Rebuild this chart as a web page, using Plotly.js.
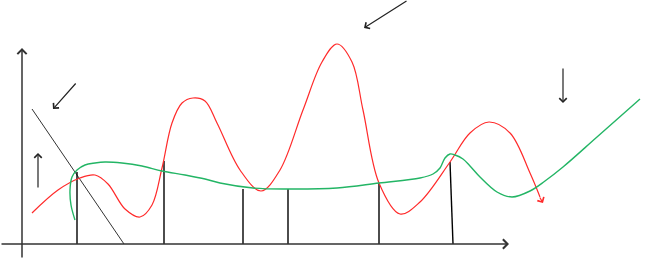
<!DOCTYPE html>
<html>
<head>
<meta charset="utf-8">
<script src="https://cdn.plot.ly/plotly-3.0.1.min.js"></script>
<style>html,body{margin:0;padding:0;background:#fff;}#chart{width:647px;height:261px;}</style>
</head>
<body>
<div id="chart"></div>
<script>
// Red curve
const redX = [32,58,80,95,108,125,140,152,162,172,182,193,205,217,240,261,280,303,322,337,352,363,379,400,420,450,470,489,510,530,540];
const redY = [213,190,178,175,184,209,217,205,168,123,103,98,101,123,170,191,170,110,62,44,62,110,183,214,202,162,133,122,133,173,197];
// Green curve
const greenX = [75,71,70,72,77,85,95,105,122,142,162,185,205,220,253,287,337,379,420,433,440,445,450,455,463,470,480,497,512,530,545,563,597,640];
const greenY = [220,205,190,177,170,165,163,162,163,166,171,175,179,183,188,189,188,183,178,174,168,158,154,155,159,166,177,192,197,191,181,167,137,99];
// Diagonal line
const diagX = [32,124];
const diagY = [109,244];
// Vertical stems (base on x axis, top on curve)
const stemBaseX = [77,164,243,288,379,453];
const stemTopX  = [77,164,243,288,379,450];
const stemTopY  = [172,161,189,189,183,162];
const baseY = 244;
// Arrows: tail -> head
const arrowTailX = [77,38,408,563];
const arrowTailY = [82,189,0,67];
const arrowHeadX = [53,38,364,563];
const arrowHeadY = [109,153,28,103];
// Axes: tail -> head
const axisTailX = [0,22];
const axisTailY = [244,259];
const axisHeadX = [509,22];
const axisHeadY = [244,48];
// Red curve end arrow
const redEndTail = [539,196];
const redEndHead = [543,203];

const sx = [], sy = [];
for (let i = 0; i < stemBaseX.length; i++) {
  sx.push(stemBaseX[i], stemTopX[i], null);
  sy.push(baseY, stemTopY[i], null);
}

const traces = [
  {x: diagX, y: diagY, mode: 'lines', line: {color: '#333', width: 1}, hoverinfo: 'skip'},
  {x: sx, y: sy, mode: 'lines', line: {color: '#000', width: 1.4}, hoverinfo: 'skip'},
  {x: redX, y: redY, mode: 'lines', line: {color: '#ff2a2a', width: 1.2, shape: 'spline', smoothing: 1}, hoverinfo: 'skip'},
  {x: greenX, y: greenY, mode: 'lines', line: {color: '#23b565', width: 1.4, shape: 'spline', smoothing: 1}, hoverinfo: 'skip'}
];

const annotations = [];
function arrow(tx, ty, hx, hy, color, w) {
  annotations.push({
    x: hx, y: hy, ax: tx, ay: ty,
    xref: 'x', yref: 'y', axref: 'x', ayref: 'y',
    text: '', showarrow: true, arrowhead: 4, arrowsize: 1.2,
    arrowwidth: w, arrowcolor: color, standoff: 0, startstandoff: 0
  });
}
for (let i = 0; i < arrowTailX.length; i++) arrow(arrowTailX[i], arrowTailY[i], arrowHeadX[i], arrowHeadY[i], '#222', 1.2);
for (let i = 0; i < axisTailX.length; i++) arrow(axisTailX[i], axisTailY[i], axisHeadX[i], axisHeadY[i], '#333', 1.5);
arrow(redEndTail[0], redEndTail[1], redEndHead[0], redEndHead[1], '#ff2a2a', 1.2);

const layout = {
  width: 647, height: 261,
  margin: {l: 0, r: 0, t: 0, b: 0},
  paper_bgcolor: '#fff', plot_bgcolor: '#fff',
  showlegend: false,
  xaxis: {range: [0, 647], visible: false, fixedrange: true},
  yaxis: {range: [261, 0], visible: false, fixedrange: true},
  annotations: annotations
};
Plotly.newPlot('chart', traces, layout, {staticPlot: true, displayModeBar: false});
</script>
</body>
</html>
